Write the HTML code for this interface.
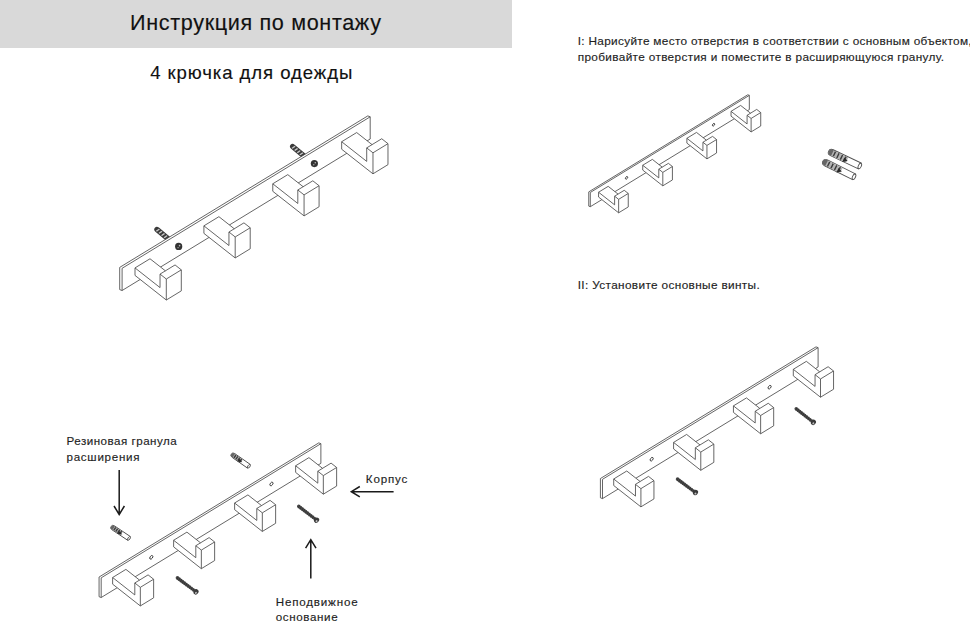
<!DOCTYPE html>
<html><head><meta charset="utf-8">
<style>
html,body{margin:0;padding:0;background:#fff;}
body{width:970px;height:623px;position:relative;overflow:hidden;font-family:"Liberation Sans",sans-serif;color:#1a1a1a;}
.hdr{position:absolute;left:0;top:0;width:512px;height:48px;background:#d9d9d9;}
.t{position:absolute;white-space:nowrap;line-height:1;-webkit-text-stroke:0.15px currentColor;}
svg{position:absolute;left:0;top:0;}
.ln{fill:none;stroke:#4a4a4a;stroke-width:0.85;stroke-linejoin:round;}
.ln2{fill:none;stroke:#333;stroke-width:0.9;}
.ar{fill:none;stroke:#1a1a1a;stroke-width:1.5;stroke-linejoin:miter;}
</style></head><body>
<div class="hdr"></div>
<svg width="970" height="623" viewBox="0 0 970 623"><g transform="translate(176.27 245.56) rotate(-140.19)"><path d="M0 -2.70L24.87 -2.70Q27.84 -2.70 27.84 0Q27.84 2.70 24.87 2.70L0 2.70Z" fill="#3a3a3a"/><rect x="13.15" y="-1.76" width="1.4" height="3.51" fill="#c8c8c8" transform="skewX(-15)"/><rect x="16.53" y="-1.76" width="1.4" height="3.51" fill="#c8c8c8" transform="skewX(-15)"/><rect x="19.91" y="-1.76" width="1.4" height="3.51" fill="#c8c8c8" transform="skewX(-15)"/><rect x="23.29" y="-1.76" width="1.4" height="3.51" fill="#c8c8c8" transform="skewX(-15)"/></g>
<g transform="translate(311.98 162.69) rotate(-140.19)"><path d="M0 -2.70L24.87 -2.70Q27.84 -2.70 27.84 0Q27.84 2.70 24.87 2.70L0 2.70Z" fill="#3a3a3a"/><rect x="13.15" y="-1.76" width="1.4" height="3.51" fill="#c8c8c8" transform="skewX(-15)"/><rect x="16.53" y="-1.76" width="1.4" height="3.51" fill="#c8c8c8" transform="skewX(-15)"/><rect x="19.91" y="-1.76" width="1.4" height="3.51" fill="#c8c8c8" transform="skewX(-15)"/><rect x="23.29" y="-1.76" width="1.4" height="3.51" fill="#c8c8c8" transform="skewX(-15)"/></g>
<path d="M119.70 289.60L119.70 267.40L367.80 115.90L370.20 116.80L370.20 139.00L122.10 290.50Z" fill="#fff" stroke="none"/>
<path d="M122.10 290.50L122.10 268.30M122.10 268.30L370.20 116.80M370.20 116.80L370.20 139.00M370.20 139.00L122.10 290.50M119.70 289.60L119.70 267.40M119.70 267.40L367.80 115.90M367.80 115.90L370.20 116.80M119.70 289.60L122.10 290.50" class="ln"/>
<circle cx="178.67" cy="246.46" r="3.6" fill="#333"/>
<circle cx="179.57" cy="245.66" r="0.8" fill="#bbb"/><circle cx="178.07" cy="247.66" r="0.7" fill="#aaa"/>
<circle cx="314.38" cy="163.59" r="3.6" fill="#333"/>
<circle cx="315.28" cy="162.79" r="0.8" fill="#bbb"/><circle cx="313.78" cy="164.79" r="0.7" fill="#aaa"/>
<path d="M135.00 267.92L150.01 258.76L165.38 270.84L175.05 264.94L181.31 269.86L181.31 290.86L166.30 300.02L135.00 275.42Z" fill="#fff" stroke="none"/>
<path d="M135.00 267.92L160.04 287.60L160.04 274.10L166.30 279.02L166.30 300.02L135.00 275.42ZM135.00 267.92L150.01 258.76M150.01 258.76L165.38 270.84M160.04 274.10L175.05 264.94M175.05 264.94L181.31 269.86M166.30 279.02L181.31 269.86M181.31 269.86L181.31 290.86M181.31 290.86L166.30 300.02" class="ln"/>
<path d="M203.90 225.85L218.91 216.68L234.28 228.77L243.95 222.86L250.21 227.78L250.21 248.78L235.20 257.95L203.90 233.35Z" fill="#fff" stroke="none"/>
<path d="M203.90 225.85L228.94 245.53L228.94 232.03L235.20 236.95L235.20 257.95L203.90 233.35ZM203.90 225.85L218.91 216.68M218.91 216.68L234.28 228.77M228.94 232.03L243.95 222.86M243.95 222.86L250.21 227.78M235.20 236.95L250.21 227.78M250.21 227.78L250.21 248.78M250.21 248.78L235.20 257.95" class="ln"/>
<path d="M272.77 183.79L287.78 174.63L303.15 186.71L312.82 180.81L319.08 185.73L319.08 206.73L304.07 215.89L272.77 191.29Z" fill="#fff" stroke="none"/>
<path d="M272.77 183.79L297.81 203.47L297.81 189.97L304.07 194.89L304.07 215.89L272.77 191.29ZM272.77 183.79L287.78 174.63M287.78 174.63L303.15 186.71M297.81 189.97L312.82 180.81M312.82 180.81L319.08 185.73M304.07 194.89L319.08 185.73M319.08 185.73L319.08 206.73M319.08 206.73L304.07 215.89" class="ln"/>
<path d="M341.67 141.72L356.68 132.56L372.05 144.64L381.72 138.74L387.98 143.66L387.98 164.66L372.97 173.82L341.67 149.22Z" fill="#fff" stroke="none"/>
<path d="M341.67 141.72L366.71 161.40L366.71 147.90L372.97 152.82L372.97 173.82L341.67 149.22ZM341.67 141.72L356.68 132.56M356.68 132.56L372.05 144.64M366.71 147.90L381.72 138.74M381.72 138.74L387.98 143.66M372.97 152.82L387.98 143.66M387.98 143.66L387.98 164.66M387.98 164.66L372.97 173.82" class="ln"/>
<path d="M588.76 206.12L588.76 191.89L747.79 94.78L749.33 95.36L749.33 109.59L590.30 206.70Z" fill="#fff" stroke="none"/>
<path d="M590.30 206.70L590.30 192.47M590.30 192.47L749.33 95.36M749.33 95.36L749.33 109.59M749.33 109.59L590.30 206.70M588.76 206.12L588.76 191.89M588.76 191.89L747.79 94.78M747.79 94.78L749.33 95.36M588.76 206.12L590.30 206.70" class="ln"/>
<ellipse cx="626.56" cy="177.83" rx="1.47" ry="0.90" transform="rotate(-55 626.56 177.83)" class="ln2"/>
<ellipse cx="713.55" cy="124.71" rx="1.47" ry="0.90" transform="rotate(-55 713.55 124.71)" class="ln2"/>
<path d="M598.57 192.23L608.19 186.35L618.05 194.10L624.24 190.31L628.25 193.47L628.25 206.93L618.63 212.80L598.57 197.04Z" fill="#fff" stroke="none"/>
<path d="M598.57 192.23L614.62 204.84L614.62 196.19L618.63 199.34L618.63 212.80L598.57 197.04ZM598.57 192.23L608.19 186.35M608.19 186.35L618.05 194.10M614.62 196.19L624.24 190.31M624.24 190.31L628.25 193.47M618.63 199.34L628.25 193.47M628.25 193.47L628.25 206.93M628.25 206.93L618.63 212.80" class="ln"/>
<path d="M642.73 165.26L652.35 159.38L662.21 167.13L668.40 163.35L672.42 166.50L672.42 179.96L662.80 185.84L642.73 170.07Z" fill="#fff" stroke="none"/>
<path d="M642.73 165.26L658.78 177.87L658.78 169.22L662.80 172.37L662.80 185.84L642.73 170.07ZM642.73 165.26L652.35 159.38M652.35 159.38L662.21 167.13M658.78 169.22L668.40 163.35M668.40 163.35L672.42 166.50M662.80 172.37L672.42 166.50M672.42 166.50L672.42 179.96M672.42 179.96L662.80 185.84" class="ln"/>
<path d="M686.88 138.30L696.50 132.43L706.36 140.17L712.55 136.39L716.56 139.54L716.56 153.00L706.94 158.88L686.88 143.11Z" fill="#fff" stroke="none"/>
<path d="M686.88 138.30L702.93 150.92L702.93 142.26L706.94 145.42L706.94 158.88L686.88 143.11ZM686.88 138.30L696.50 132.43M696.50 132.43L706.36 140.17M702.93 142.26L712.55 136.39M712.55 136.39L716.56 139.54M706.94 145.42L716.56 139.54M716.56 139.54L716.56 153.00M716.56 153.00L706.94 158.88" class="ln"/>
<path d="M731.04 111.33L740.66 105.46L750.52 113.20L756.72 109.42L760.73 112.57L760.73 126.03L751.11 131.91L731.04 116.14Z" fill="#fff" stroke="none"/>
<path d="M731.04 111.33L747.09 123.95L747.09 115.30L751.11 118.45L751.11 131.91L731.04 116.14ZM731.04 111.33L740.66 105.46M740.66 105.46L750.52 113.20M747.09 115.30L756.72 109.42M756.72 109.42L760.73 112.57M751.11 118.45L760.73 112.57M760.73 112.57L760.73 126.03M760.73 126.03L751.11 131.91" class="ln"/>
<g transform="translate(859.80 166.00) rotate(-154.58)"><path d="M0 -3.25L30.95 -3.25Q34.52 -3.25 34.52 0Q34.52 3.25 30.95 3.25L0 3.25Z" fill="#fff" stroke="#505050" stroke-width="0.9"/><path d="M14.09 -2.85L30.95 -2.85Q34.20 -2.85 34.20 0Q34.20 2.85 30.95 2.85L14.09 2.85Z" fill="#b4b4b4"/><path d="M30.30 -3.25Q34.52 -3.25 34.52 0Q34.52 3.25 30.30 3.25Z" fill="#666"/><rect x="15.72" y="-2.60" width="1.4" height="5.20" fill="#3a3a3a"/><rect x="19.61" y="-2.60" width="1.4" height="5.20" fill="#3a3a3a"/><rect x="23.50" y="-2.60" width="1.4" height="5.20" fill="#3a3a3a"/><rect x="27.39" y="-2.60" width="1.4" height="5.20" fill="#3a3a3a"/><path d="M13.09 -0.65L17.59 -3.90L17.59 0.97Z" fill="#2a2a2a"/><ellipse cx="0" cy="0" rx="1.46" ry="2.93" fill="#fff" stroke="#505050" stroke-width="0.9"/></g>
<g transform="translate(854.00 176.80) rotate(-153.51)"><path d="M0 -3.25L31.25 -3.25Q34.83 -3.25 34.83 0Q34.83 3.25 31.25 3.25L0 3.25Z" fill="#fff" stroke="#505050" stroke-width="0.9"/><path d="M14.22 -2.85L31.25 -2.85Q34.50 -2.85 34.50 0Q34.50 2.85 31.25 2.85L14.22 2.85Z" fill="#b4b4b4"/><path d="M30.60 -3.25Q34.83 -3.25 34.83 0Q34.83 3.25 30.60 3.25Z" fill="#666"/><rect x="15.88" y="-2.60" width="1.4" height="5.20" fill="#3a3a3a"/><rect x="19.81" y="-2.60" width="1.4" height="5.20" fill="#3a3a3a"/><rect x="23.75" y="-2.60" width="1.4" height="5.20" fill="#3a3a3a"/><rect x="27.68" y="-2.60" width="1.4" height="5.20" fill="#3a3a3a"/><path d="M13.22 -0.65L17.72 -3.90L17.72 0.97Z" fill="#2a2a2a"/><ellipse cx="0" cy="0" rx="1.46" ry="2.93" fill="#fff" stroke="#505050" stroke-width="0.9"/></g>
<path d="M600.41 497.82L600.41 478.53L816.01 346.87L818.10 347.65L818.10 366.95L602.50 498.60Z" fill="#fff" stroke="none"/>
<path d="M602.50 498.60L602.50 479.31M602.50 479.31L818.10 347.65M818.10 347.65L818.10 366.95M818.10 366.95L602.50 498.60M600.41 497.82L600.41 478.53M600.41 478.53L816.01 346.87M816.01 346.87L818.10 347.65M600.41 497.82L602.50 498.60" class="ln"/>
<ellipse cx="651.66" cy="459.20" rx="2.00" ry="1.22" transform="rotate(-55 651.66 459.20)" class="ln2"/>
<ellipse cx="769.59" cy="387.18" rx="2.00" ry="1.22" transform="rotate(-55 769.59 387.18)" class="ln2"/>
<path d="M613.71 478.98L626.75 471.01L640.11 481.51L648.51 476.39L653.95 480.66L653.95 498.91L640.91 506.87L613.71 485.50Z" fill="#fff" stroke="none"/>
<path d="M613.71 478.98L635.47 496.08L635.47 484.35L640.91 488.63L640.91 506.87L613.71 485.50ZM613.71 478.98L626.75 471.01M626.75 471.01L640.11 481.51M635.47 484.35L648.51 476.39M648.51 476.39L653.95 480.66M640.91 488.63L653.95 480.66M653.95 480.66L653.95 498.91M653.95 498.91L640.91 506.87" class="ln"/>
<path d="M673.58 442.42L686.63 434.45L699.99 444.95L708.39 439.82L713.83 444.10L713.83 462.35L700.78 470.31L673.58 448.94Z" fill="#fff" stroke="none"/>
<path d="M673.58 442.42L695.34 459.52L695.34 447.79L700.78 452.07L700.78 470.31L673.58 448.94ZM673.58 442.42L686.63 434.45M686.63 434.45L699.99 444.95M695.34 447.79L708.39 439.82M708.39 439.82L713.83 444.10M700.78 452.07L713.83 444.10M713.83 444.10L713.83 462.35M713.83 462.35L700.78 470.31" class="ln"/>
<path d="M733.43 405.87L746.48 397.91L759.84 408.41L768.24 403.28L773.68 407.55L773.68 425.80L760.63 433.77L733.43 412.39Z" fill="#fff" stroke="none"/>
<path d="M733.43 405.87L755.19 422.97L755.19 411.24L760.63 415.52L760.63 433.77L733.43 412.39ZM733.43 405.87L746.48 397.91M746.48 397.91L759.84 408.41M755.19 411.24L768.24 403.28M768.24 403.28L773.68 407.55M760.63 415.52L773.68 407.55M773.68 407.55L773.68 425.80M773.68 425.80L760.63 433.77" class="ln"/>
<path d="M793.31 369.31L806.35 361.35L819.71 371.85L828.11 366.72L833.55 370.99L833.55 389.24L820.50 397.21L793.31 375.83Z" fill="#fff" stroke="none"/>
<path d="M793.31 369.31L815.06 386.41L815.06 374.68L820.50 378.96L820.50 397.21L793.31 375.83ZM793.31 369.31L806.35 361.35M806.35 361.35L819.71 371.85M815.06 374.68L828.11 366.72M828.11 366.72L833.55 370.99M820.50 378.96L833.55 370.99M833.55 370.99L833.55 389.24M833.55 389.24L820.50 397.21" class="ln"/>
<g transform="translate(676.10 478.10) rotate(36.68)"><path d="M1.70 -1.70L23.44 -1.36L23.44 1.36L1.70 1.70A1.70 1.70 0 0 1 1.70 -1.70Z" fill="#484848"/><path d="M1.50 -1.70L2.50 1.70" stroke="#2a2a2a" stroke-width="0.6"/><path d="M3.70 -1.70L4.70 1.70" stroke="#2a2a2a" stroke-width="0.6"/><path d="M5.90 -1.70L6.90 1.70" stroke="#2a2a2a" stroke-width="0.6"/><path d="M8.10 -1.70L9.10 1.70" stroke="#2a2a2a" stroke-width="0.6"/><path d="M10.30 -1.70L11.30 1.70" stroke="#2a2a2a" stroke-width="0.6"/><path d="M12.50 -1.70L13.50 1.70" stroke="#2a2a2a" stroke-width="0.6"/><path d="M14.70 -1.70L15.70 1.70" stroke="#2a2a2a" stroke-width="0.6"/><path d="M16.90 -1.70L17.90 1.70" stroke="#2a2a2a" stroke-width="0.6"/><path d="M19.10 -1.70L20.10 1.70" stroke="#2a2a2a" stroke-width="0.6"/><path d="M21.30 -1.70L22.30 1.70" stroke="#2a2a2a" stroke-width="0.6"/><path d="M23.50 -1.70L24.50 1.70" stroke="#2a2a2a" stroke-width="0.6"/><ellipse cx="24.24" cy="0" rx="2.35" ry="2.80" fill="#3a3a3a"/><ellipse cx="24.74" cy="0.8" rx="0.9" ry="1.1" fill="#bdbdbd"/></g>
<g transform="translate(794.80 407.70) rotate(38.21)"><path d="M1.70 -1.70L22.93 -1.36L22.93 1.36L1.70 1.70A1.70 1.70 0 0 1 1.70 -1.70Z" fill="#484848"/><path d="M1.50 -1.70L2.50 1.70" stroke="#2a2a2a" stroke-width="0.6"/><path d="M3.70 -1.70L4.70 1.70" stroke="#2a2a2a" stroke-width="0.6"/><path d="M5.90 -1.70L6.90 1.70" stroke="#2a2a2a" stroke-width="0.6"/><path d="M8.10 -1.70L9.10 1.70" stroke="#2a2a2a" stroke-width="0.6"/><path d="M10.30 -1.70L11.30 1.70" stroke="#2a2a2a" stroke-width="0.6"/><path d="M12.50 -1.70L13.50 1.70" stroke="#2a2a2a" stroke-width="0.6"/><path d="M14.70 -1.70L15.70 1.70" stroke="#2a2a2a" stroke-width="0.6"/><path d="M16.90 -1.70L17.90 1.70" stroke="#2a2a2a" stroke-width="0.6"/><path d="M19.10 -1.70L20.10 1.70" stroke="#2a2a2a" stroke-width="0.6"/><path d="M21.30 -1.70L22.30 1.70" stroke="#2a2a2a" stroke-width="0.6"/><ellipse cx="23.73" cy="0" rx="2.35" ry="2.80" fill="#3a3a3a"/><ellipse cx="24.23" cy="0.8" rx="0.9" ry="1.1" fill="#bdbdbd"/></g>
<path d="M99.07 596.70L99.07 577.04L318.77 442.89L320.89 443.69L320.89 463.35L101.20 597.50Z" fill="#fff" stroke="none"/>
<path d="M101.20 597.50L101.20 577.84M101.20 577.84L320.89 443.69M320.89 443.69L320.89 463.35M320.89 463.35L101.20 597.50M99.07 596.70L99.07 577.04M99.07 577.04L318.77 442.89M318.77 442.89L320.89 443.69M99.07 596.70L101.20 597.50" class="ln"/>
<ellipse cx="151.29" cy="557.35" rx="2.04" ry="1.24" transform="rotate(-55 151.29 557.35)" class="ln2"/>
<ellipse cx="271.46" cy="483.97" rx="2.04" ry="1.24" transform="rotate(-55 271.46 483.97)" class="ln2"/>
<path d="M112.62 577.51L125.92 569.39L139.53 580.09L148.09 574.86L153.63 579.22L153.63 597.82L140.34 605.93L112.62 584.15Z" fill="#fff" stroke="none"/>
<path d="M112.62 577.51L134.80 594.93L134.80 582.98L140.34 587.34L140.34 605.93L112.62 584.15ZM112.62 577.51L125.92 569.39M125.92 569.39L139.53 580.09M134.80 582.98L148.09 574.86M148.09 574.86L153.63 579.22M140.34 587.34L153.63 579.22M153.63 579.22L153.63 597.82M153.63 597.82L140.34 605.93" class="ln"/>
<path d="M173.63 540.25L186.92 532.14L200.54 542.84L209.10 537.61L214.64 541.97L214.64 560.56L201.35 568.68L173.63 546.89Z" fill="#fff" stroke="none"/>
<path d="M173.63 540.25L195.81 557.68L195.81 545.73L201.35 550.08L201.35 568.68L173.63 546.89ZM173.63 540.25L186.92 532.14M186.92 532.14L200.54 542.84M195.81 545.73L209.10 537.61M209.10 537.61L214.64 541.97M201.35 550.08L214.64 541.97M214.64 541.97L214.64 560.56M214.64 560.56L201.35 568.68" class="ln"/>
<path d="M234.62 503.01L247.91 494.90L261.52 505.59L270.08 500.37L275.63 504.72L275.63 523.32L262.34 531.44L234.62 509.65Z" fill="#fff" stroke="none"/>
<path d="M234.62 503.01L256.79 520.44L256.79 508.48L262.34 512.84L262.34 531.44L234.62 509.65ZM234.62 503.01L247.91 494.90M247.91 494.90L261.52 505.59M256.79 508.48L270.08 500.37M270.08 500.37L275.63 504.72M262.34 512.84L275.63 504.72M275.63 504.72L275.63 523.32M275.63 523.32L262.34 531.44" class="ln"/>
<path d="M295.63 465.76L308.92 457.64L322.53 468.34L331.09 463.11L336.64 467.47L336.64 486.07L323.34 494.18L295.63 472.40Z" fill="#fff" stroke="none"/>
<path d="M295.63 465.76L317.80 483.18L317.80 471.23L323.34 475.59L323.34 494.18L295.63 472.40ZM295.63 465.76L308.92 457.64M308.92 457.64L322.53 468.34M317.80 471.23L331.09 463.11M331.09 463.11L336.64 467.47M323.34 475.59L336.64 467.47M336.64 467.47L336.64 486.07M336.64 486.07L323.34 494.18" class="ln"/>
<g transform="translate(129.00 538.40) rotate(-146.16)"><path d="M0 -2.30L18.99 -2.30Q21.52 -2.30 21.52 0Q21.52 2.30 18.99 2.30L0 2.30Z" fill="#fff" stroke="#505050" stroke-width="0.9"/><path d="M8.75 -1.90L18.99 -1.90Q21.29 -1.90 21.29 0Q21.29 1.90 18.99 1.90L8.75 1.90Z" fill="#b4b4b4"/><path d="M18.53 -2.30Q21.52 -2.30 21.52 0Q21.52 2.30 18.53 2.30Z" fill="#666"/><rect x="9.45" y="-1.84" width="1.4" height="3.68" fill="#3a3a3a"/><rect x="11.78" y="-1.84" width="1.4" height="3.68" fill="#3a3a3a"/><rect x="14.11" y="-1.84" width="1.4" height="3.68" fill="#3a3a3a"/><rect x="16.44" y="-1.84" width="1.4" height="3.68" fill="#3a3a3a"/><path d="M7.75 -0.46L12.25 -2.76L12.25 0.69Z" fill="#2a2a2a"/><ellipse cx="0" cy="0" rx="1.03" ry="2.07" fill="#fff" stroke="#505050" stroke-width="0.9"/></g>
<g transform="translate(248.90 466.30) rotate(-145.01)"><path d="M0 -2.30L18.91 -2.30Q21.44 -2.30 21.44 0Q21.44 2.30 18.91 2.30L0 2.30Z" fill="#fff" stroke="#505050" stroke-width="0.9"/><path d="M8.72 -1.90L18.91 -1.90Q21.21 -1.90 21.21 0Q21.21 1.90 18.91 1.90L8.72 1.90Z" fill="#b4b4b4"/><path d="M18.45 -2.30Q21.44 -2.30 21.44 0Q21.44 2.30 18.45 2.30Z" fill="#666"/><rect x="9.41" y="-1.84" width="1.4" height="3.68" fill="#3a3a3a"/><rect x="11.73" y="-1.84" width="1.4" height="3.68" fill="#3a3a3a"/><rect x="14.04" y="-1.84" width="1.4" height="3.68" fill="#3a3a3a"/><rect x="16.36" y="-1.84" width="1.4" height="3.68" fill="#3a3a3a"/><path d="M7.72 -0.46L12.22 -2.76L12.22 0.69Z" fill="#2a2a2a"/><ellipse cx="0" cy="0" rx="1.03" ry="2.07" fill="#fff" stroke="#505050" stroke-width="0.9"/></g>
<g transform="translate(176.00 576.80) rotate(36.96)"><path d="M1.70 -1.70L24.28 -1.36L24.28 1.36L1.70 1.70A1.70 1.70 0 0 1 1.70 -1.70Z" fill="#484848"/><path d="M1.50 -1.70L2.50 1.70" stroke="#2a2a2a" stroke-width="0.6"/><path d="M3.70 -1.70L4.70 1.70" stroke="#2a2a2a" stroke-width="0.6"/><path d="M5.90 -1.70L6.90 1.70" stroke="#2a2a2a" stroke-width="0.6"/><path d="M8.10 -1.70L9.10 1.70" stroke="#2a2a2a" stroke-width="0.6"/><path d="M10.30 -1.70L11.30 1.70" stroke="#2a2a2a" stroke-width="0.6"/><path d="M12.50 -1.70L13.50 1.70" stroke="#2a2a2a" stroke-width="0.6"/><path d="M14.70 -1.70L15.70 1.70" stroke="#2a2a2a" stroke-width="0.6"/><path d="M16.90 -1.70L17.90 1.70" stroke="#2a2a2a" stroke-width="0.6"/><path d="M19.10 -1.70L20.10 1.70" stroke="#2a2a2a" stroke-width="0.6"/><path d="M21.30 -1.70L22.30 1.70" stroke="#2a2a2a" stroke-width="0.6"/><path d="M23.50 -1.70L24.50 1.70" stroke="#2a2a2a" stroke-width="0.6"/><ellipse cx="25.08" cy="0" rx="2.35" ry="2.80" fill="#3a3a3a"/><ellipse cx="25.58" cy="0.8" rx="0.9" ry="1.1" fill="#bdbdbd"/></g>
<g transform="translate(297.40 505.30) rotate(37.71)"><path d="M1.70 -1.70L23.52 -1.36L23.52 1.36L1.70 1.70A1.70 1.70 0 0 1 1.70 -1.70Z" fill="#484848"/><path d="M1.50 -1.70L2.50 1.70" stroke="#2a2a2a" stroke-width="0.6"/><path d="M3.70 -1.70L4.70 1.70" stroke="#2a2a2a" stroke-width="0.6"/><path d="M5.90 -1.70L6.90 1.70" stroke="#2a2a2a" stroke-width="0.6"/><path d="M8.10 -1.70L9.10 1.70" stroke="#2a2a2a" stroke-width="0.6"/><path d="M10.30 -1.70L11.30 1.70" stroke="#2a2a2a" stroke-width="0.6"/><path d="M12.50 -1.70L13.50 1.70" stroke="#2a2a2a" stroke-width="0.6"/><path d="M14.70 -1.70L15.70 1.70" stroke="#2a2a2a" stroke-width="0.6"/><path d="M16.90 -1.70L17.90 1.70" stroke="#2a2a2a" stroke-width="0.6"/><path d="M19.10 -1.70L20.10 1.70" stroke="#2a2a2a" stroke-width="0.6"/><path d="M21.30 -1.70L22.30 1.70" stroke="#2a2a2a" stroke-width="0.6"/><path d="M23.50 -1.70L24.50 1.70" stroke="#2a2a2a" stroke-width="0.6"/><ellipse cx="24.32" cy="0" rx="2.35" ry="2.80" fill="#3a3a3a"/><ellipse cx="24.82" cy="0.8" rx="0.9" ry="1.1" fill="#bdbdbd"/></g>
<path d="M119.20 470.00L119.20 514.50M124.40 506.00L119.20 514.50L114.00 506.00" class="ar"/>
<path d="M310.80 578.60L310.80 539.60M305.60 548.10L310.80 539.60L316.00 548.10" class="ar"/>
<path d="M393.60 491.70L351.30 491.70M359.80 496.90L351.30 491.70L359.80 486.50" class="ar"/></svg>
<div class="t" style="left:130.1px;top:11.7px;font-size:21.6px;letter-spacing:0.650px;color:#111">Инструкция по монтажу</div>
<div class="t" style="left:150.2px;top:63.7px;font-size:18.6px;letter-spacing:0.906px;color:#111">4 крючка для одежды</div>
<div class="t" style="left:577.7px;top:36.0px;font-size:11.8px;letter-spacing:0.317px;color:#1e1e1e">I: Нарисуйте место отверстия в соответствии с основным объектом,</div>
<div class="t" style="left:577.7px;top:52.0px;font-size:11.8px;letter-spacing:0.345px;color:#1e1e1e">пробивайте отверстия и поместите в расширяющуюся гранулу.</div>
<div class="t" style="left:577.7px;top:280.0px;font-size:11.8px;letter-spacing:0.355px;color:#1e1e1e">II: Установите основные винты.</div>
<div class="t" style="left:66.5px;top:435.2px;font-size:11.6px;letter-spacing:0.494px;color:#1e1e1e">Резиновая гранула</div>
<div class="t" style="left:66.5px;top:451.0px;font-size:11.6px;letter-spacing:0.722px;color:#1e1e1e">расширения</div>
<div class="t" style="left:365.8px;top:472.9px;font-size:11.6px;letter-spacing:0.840px;color:#1e1e1e">Корпус</div>
<div class="t" style="left:275.7px;top:595.5px;font-size:11.6px;letter-spacing:0.820px;color:#1e1e1e">Неподвижное</div>
<div class="t" style="left:275.7px;top:611.2px;font-size:11.6px;letter-spacing:0.625px;color:#1e1e1e">основание</div>
</body></html>
